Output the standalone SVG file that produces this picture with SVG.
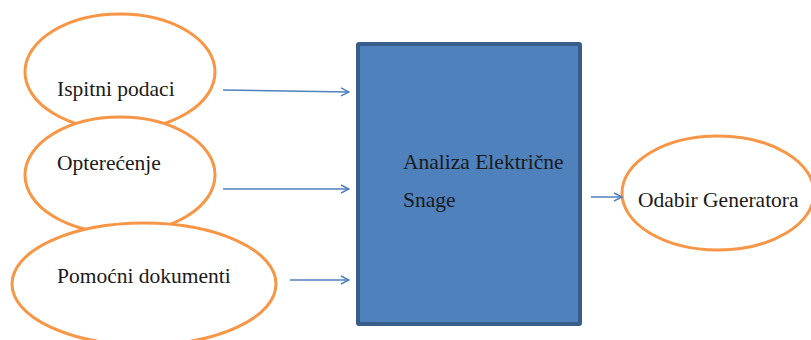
<svg xmlns="http://www.w3.org/2000/svg" width="811" height="340" viewBox="0 0 811 340">
<defs>
<style>
.oval{fill:#ffffff;stroke:#f79646;stroke-width:3}
.lbl{font-size:21.5px;fill:#1a1a1a}
.conn{stroke:#4f81bd;stroke-width:1.5;fill:none}
.box{fill:#4f81bd;stroke:#385d8a;stroke-width:4}
</style>
<marker id="arr" viewBox="0 0 10 10" refX="9" refY="5" markerWidth="10" markerHeight="10" markerUnits="userSpaceOnUse" orient="auto">
<path d="M1,1 L9,5 L1,9" fill="none" stroke="#4f81bd" stroke-width="1.5"/>
</marker>
</defs>
<rect width="811" height="340" fill="#ffffff"/>
<g id="n1">
<ellipse class="oval" cx="120" cy="72" rx="95" ry="58"/>
</g>
<g id="n2">
<ellipse class="oval" cx="120" cy="175" rx="95" ry="58"/>
</g>
<g id="n3">
<ellipse class="oval" cx="144" cy="284" rx="132" ry="61"/>
</g>
<g font-family="'Liberation Serif', 'DejaVu Serif', serif">
<g id="t1"><text class="lbl" x="57" y="96">Ispitni podaci</text></g>
<g id="t2"><text class="lbl" x="57" y="170">Opterećenje</text></g>
<g id="t3"><text class="lbl" x="57" y="283">Pomoćni dokumenti</text></g>
</g>
<g id="n4" font-family="'Liberation Serif', 'DejaVu Serif', serif">
<rect class="box" x="358" y="44" width="222" height="280" rx="1"/>
<text class="lbl" x="403" y="169">Analiza Električne</text>
<text class="lbl" x="403" y="207">Snage</text>
</g>
<g id="n5" font-family="'Liberation Serif', 'DejaVu Serif', serif">
<ellipse class="oval" cx="718" cy="193" rx="96" ry="57"/>
<text class="lbl" x="638" y="207">Odabir Generatora</text>
</g>
<g id="connectors">
<line class="conn" x1="223" y1="90" x2="349" y2="92" marker-end="url(#arr)"/>
<line class="conn" x1="223" y1="189" x2="349" y2="189" marker-end="url(#arr)"/>
<line class="conn" x1="290" y1="280" x2="349" y2="280" marker-end="url(#arr)"/>
<line class="conn" x1="591" y1="197" x2="622" y2="197" marker-end="url(#arr)"/>
</g>
</svg>
